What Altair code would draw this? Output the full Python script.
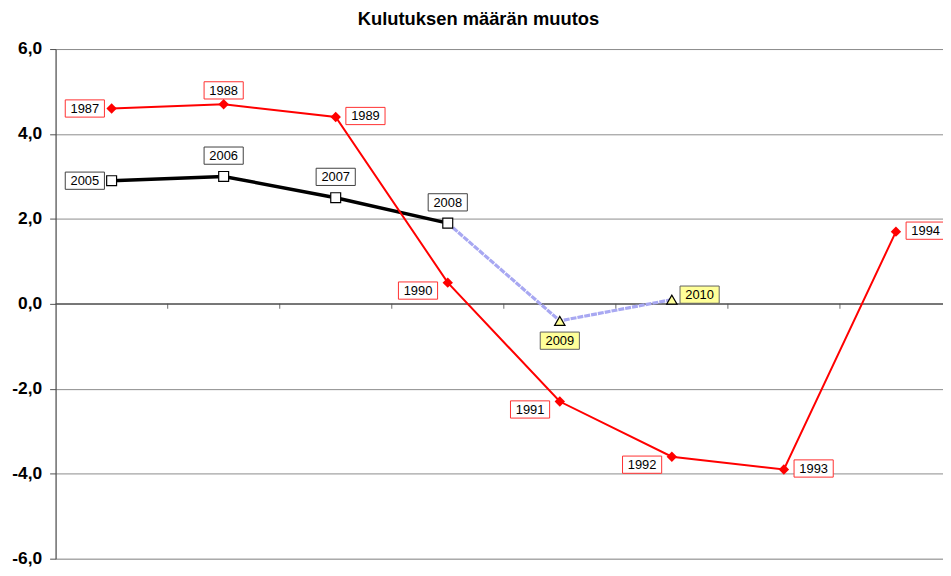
import altair as alt
import pandas as pd

# ---- data ----
positions = [1, 2, 3, 4, 5, 6, 7, 8]
red_years = ["1987", "1988", "1989", "1990", "1991", "1992", "1993", "1994"]
red_values = [4.6, 4.7, 4.4, 0.5, -2.3, -3.6, -3.9, 1.7]
red_place = ["left", "above", "right", "below-left", "below-left", "below-left", "right", "right"]

black_years = ["2005", "2006", "2007", "2008"]
black_values = [2.9, 3.0, 2.5, 1.9]
black_place = ["left", "above-high", "above-high", "above-high"]

fc_years = ["2008", "2009", "2010"]
fc_values = [1.9, -0.4, 0.1]
fc_place = [None, "below", "right-up"]

y_ticks = [-6, -4, -2, 0, 2, 4, 6]
boundaries = [p + 0.5 for p in positions[:-1]]

# label placement (style): offset of the label box from its point
OFFSETS = {
    "left": (-27, 0),
    "above": (0, -14),
    "above-high": (0, -21),
    "right": (30, -1),
    "below-left": (-30, 8),
    "below": (0, 20),
    "right-up": (28, -5),
}

FONT = "Liberation Sans"

red_df = pd.DataFrame({"pos": positions, "value": red_values, "year": red_years,
                       "place": red_place, "series": "red"})
black_df = pd.DataFrame({"pos": positions[:len(black_values)], "value": black_values,
                         "year": black_years, "place": black_place, "series": "black"})
fc_df = pd.DataFrame({"pos": positions[3:3 + len(fc_values)], "value": fc_values,
                      "year": fc_years, "place": fc_place, "series": "fc"})
labels_df = pd.concat([red_df, black_df, fc_df[fc_df["place"].notna()]], ignore_index=True)

xscale = alt.Scale(domain=[0.5, 8.42], nice=False, zero=False)
yscale = alt.Scale(domain=[-6, 6], nice=False, zero=False)

YAXIS = alt.Axis(values=y_ticks, title=None, grid=True, gridColor="#8c8c8c",
                 gridWidth=1, domainColor="#505050", domainWidth=1.2,
                 tickColor="#505050", tickSize=6, labelFont=FONT,
                 labelFontSize=17.5, labelFontWeight="bold", labelColor="black",
                 labelPadding=8,
                 labelExpr="(datum.value < 0 ? '-' : '') + replace(format(abs(datum.value), '.1f'), '.', ',')")

X = alt.X("pos:Q", scale=xscale, axis=None)
Y = alt.Y("value:Q", scale=yscale, axis=YAXIS)

zero_line = alt.Chart(pd.DataFrame({"value": [0]})).mark_rule(color="#505050", strokeWidth=1.2).encode(
    y=Y
)

xticks = alt.Chart(pd.DataFrame({"pos": boundaries, "value": [0] * len(boundaries)})).mark_tick(
    orient="vertical", size=5, thickness=1.2, color="#505050", yOffset=2.5
).encode(x=X, y=Y)

fc_line = alt.Chart(fc_df).mark_line(color="#a8a8f2", strokeWidth=3.2, strokeDash=[6, 1]).encode(x=X, y=Y)
black_line = alt.Chart(black_df).mark_line(color="black", strokeWidth=3.5).encode(x=X, y=Y)
red_line = alt.Chart(red_df).mark_line(color="#ff0000", strokeWidth=2).encode(x=X, y=Y)

red_pts = alt.Chart(red_df).mark_point(shape="diamond", filled=True, color="#ff0000",
                                       size=110, opacity=1).encode(x=X, y=Y)
black_pts = alt.Chart(black_df).mark_point(shape="square", filled=True, fill="white",
                                           stroke="black", strokeWidth=1.2, size=100,
                                           opacity=1).encode(x=X, y=Y)
fc_pts = alt.Chart(fc_df[fc_df["place"].notna()]).mark_point(
    shape="triangle-up", filled=True, fill="#ffff99", stroke="black", strokeWidth=1.2,
    size=110, opacity=1).encode(x=X, y=Y)

BOX = "M-1,-0.44L1,-0.44L1,0.44L-1,0.44Z"
stroke_scale = alt.Scale(domain=["red", "black", "fc"], range=["#ff3030", "#404040", "#606060"])
fill_scale = alt.Scale(domain=["red", "black", "fc"], range=["white", "white", "#ffff99"])

label_layers = []
for place, (dx, dy) in OFFSETS.items():
    sub = labels_df[labels_df["place"] == place]
    if sub.empty:
        continue
    box = alt.Chart(sub).mark_point(shape=BOX, filled=True, size=1560, strokeWidth=1,
                                    opacity=1, xOffset=dx, yOffset=dy).encode(
        x=X, y=Y,
        fill=alt.Fill("series:N", scale=fill_scale, legend=None),
        stroke=alt.Stroke("series:N", scale=stroke_scale, legend=None),
    )
    txt = alt.Chart(sub).mark_text(font=FONT, fontSize=13, color="black", dx=dx, dy=dy + 0.5,
                                   align="center", baseline="middle").encode(
        x=X, y=Y, text="year:N")
    label_layers += [box, txt]

chart = alt.layer(
    zero_line, xticks, fc_line, black_line, red_line,
    fc_pts, black_pts, red_pts, *label_layers
).properties(
    width=895, height=514,
    title=alt.TitleParams("Kulutuksen määrän muutos", font=FONT, fontSize=18.5,
                          fontWeight="bold", anchor="middle", frame="group", dx=-21,
                          offset=12, color="black"),
    autosize=alt.AutoSizeParams(type="none"),
    padding={"left": 48, "top": 39, "right": 0, "bottom": 7},
).configure_view(strokeWidth=0, stroke="transparent").configure(background="white")

chart.save("out.html", embed_options={"renderer": "svg", "actions": False})
